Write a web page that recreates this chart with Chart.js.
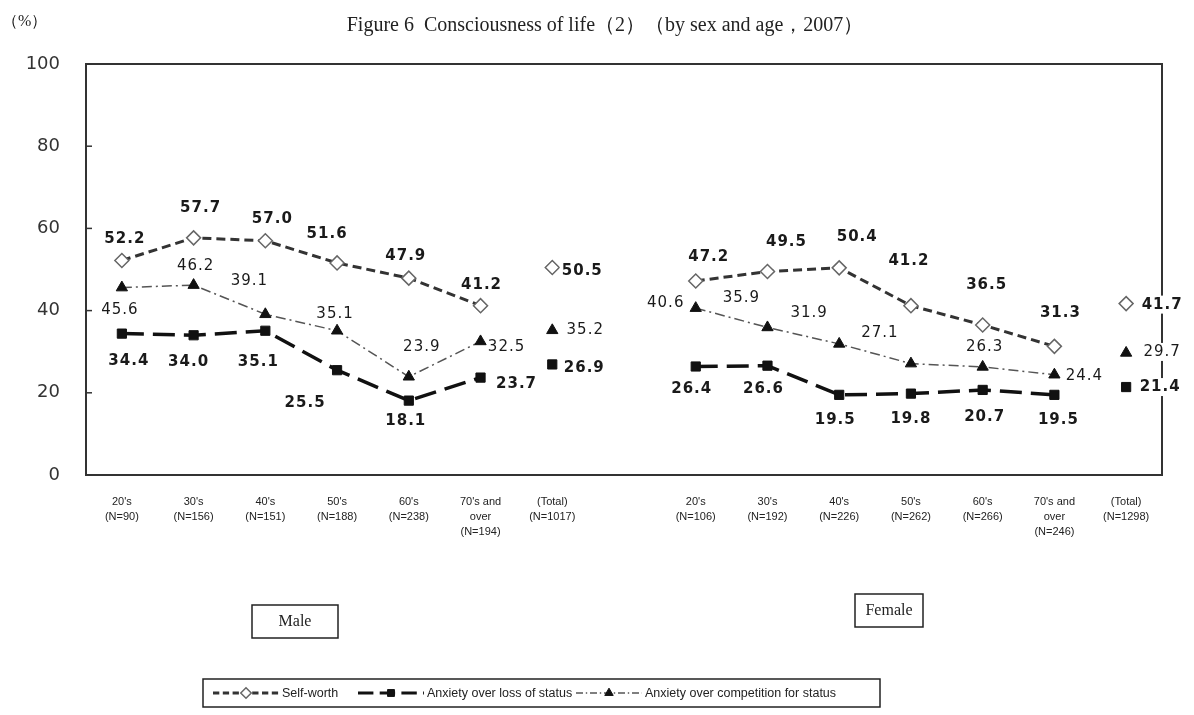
<!DOCTYPE html>
<html>
<head>
<meta charset="utf-8">
<script src="https://cdn.jsdelivr.net/npm/chart.js@4/dist/chart.umd.min.js"></script>
<style>
  body { margin: 0; background: #fff; }
  #wrap { width: 1194px; height: 715px; position: relative; }
</style>
</head>
<body>
<div id="wrap"><canvas id="chart"></canvas></div>
<script>
// Categories (age groups with sample size), male then female
const maleLabels = [["20's", "(N=90)"], ["30's", "(N=156)"], ["40's", "(N=151)"], ["50's", "(N=188)"],
    ["60's", "(N=238)"], ["70's and", "over", "(N=194)"], ["(Total)", "(N=1017)"]];
const femaleLabels = [["20's", "(N=106)"], ["30's", "(N=192)"], ["40's", "(N=226)"], ["50's", "(N=262)"],
    ["60's", "(N=266)"], ["70's and", "over", "(N=246)"], ["(Total)", "(N=1298)"]];

// Series values (%)
const maleSelfWorth = [52.2, 57.7, 57.0, 51.6, 47.9, 41.2, 50.5];
const femaleSelfWorth = [47.2, 49.5, 50.4, 41.2, 36.5, 31.3, 41.7];
const maleLoss = [34.4, 34.0, 35.1, 25.5, 18.1, 23.7, 26.9];
const femaleLoss = [26.4, 26.6, 19.5, 19.8, 20.7, 19.5, 21.4];
const maleCompetition = [45.6, 46.2, 39.1, 35.1, 23.9, 32.5, 35.2];
const femaleCompetition = [40.6, 35.9, 31.9, 27.1, 26.3, 24.4, 29.7];

const yTicks = [0, 20, 40, 60, 80, 100];

// Where each value label sits relative to its marker (dx, dy in px)
const selfWorthLabelPos = [[3, -21], [7, -30], [7, -22], [-10, -29], [-3, -22], [1, -21], [30, 4],
    [13, -24], [19, -29], [18, -31], [-2, -45], [4, -40], [6, -33], [36, 1]];
const lossLabelPos = [[7, 27], [-5, 27], [-7, 31], [-32, 33], [-3, 21], [36, 7], [32, 4],
    [-4, 23], [-4, 23], [-4, 25], [0, 25], [2, 27], [4, 25], [34, 0]];
const competitionLabelPos = [[-2, 23], [2, -19], [-16, -33], [-2, -17], [13, -30], [26, 6], [33, 0],
    [-30, -5], [-26, -29], [-30, -31], [-31, -31], [2, -20], [30, 1], [36, -1]];

// one empty slot between the male and female groups
const categories = [...maleLabels, '', ...femaleLabels];
const join = (m, f) => [...m, null, ...f];
const withGap = (m) => [...m.slice(0, 7), null, ...m.slice(7)];
const totalIndexes = [6, 14]; // (Total) points are not joined to the line

const hideTotalSegment = {
    borderColor: ctx => totalIndexes.includes(ctx.p1DataIndex) ? 'transparent' : undefined
};

const boldLabel = 'bold 15px "DejaVu Sans"';
const plainLabel = '15px "DejaVu Sans"';

const datasets = [
    {
        label: 'Self-worth',
        data: join(maleSelfWorth, femaleSelfWorth),
        borderColor: '#333',
        borderWidth: 3,
        borderDash: [9, 5],
        pointStyle: 'rectRot',
        pointRadius: 7,
        pointBackgroundColor: '#fff',
        pointBorderColor: '#666',
        pointBorderWidth: 1.5,
        segment: hideTotalSegment,
        labelPos: withGap(selfWorthLabelPos),
        labelFont: boldLabel
    },
    {
        label: 'Anxiety over loss of status',
        data: join(maleLoss, femaleLoss),
        borderColor: '#111',
        borderWidth: 3.5,
        borderDash: [22, 9],
        pointStyle: 'rect',
        pointRadius: 6.5,
        pointBackgroundColor: '#111',
        pointBorderColor: '#111',
        pointBorderWidth: 1,
        segment: hideTotalSegment,
        labelPos: withGap(lossLabelPos),
        labelFont: boldLabel
    },
    {
        label: 'Anxiety over competition for status',
        data: join(maleCompetition, femaleCompetition),
        borderColor: '#555',
        borderWidth: 1.5,
        borderDash: [10, 4, 2, 4],
        pointStyle: 'triangle',
        pointRadius: 6.5,
        pointBackgroundColor: '#111',
        pointBorderColor: '#111',
        pointBorderWidth: 1,
        segment: hideTotalSegment,
        labelPos: withGap(competitionLabelPos),
        labelFont: plainLabel
    }
];

// Frame, title, unit, group boxes and legend (drawn under the value labels)
const decorations = {
    id: 'decorations',
    afterDatasetsDraw(chart) {
        const ctx = chart.ctx;
        const a = chart.chartArea;
        const y = chart.scales.y;
        ctx.save();

        // plot frame
        ctx.strokeStyle = '#333';
        ctx.lineWidth = 2;
        ctx.strokeRect(a.left, a.top, a.right - a.left, a.bottom - a.top);
        // inward tick marks on the value axis
        ctx.lineWidth = 1.5;
        yTicks.forEach(t => {
            const py = y.getPixelForValue(t);
            ctx.beginPath();
            ctx.moveTo(a.left, py);
            ctx.lineTo(a.left + 6, py);
            ctx.stroke();
        });

        // title and unit
        ctx.fillStyle = '#222';
        ctx.font = '20px "Liberation Serif"';
        ctx.textBaseline = 'middle';
        ctx.textAlign = 'center';
        ctx.fillText('Figure 6  Consciousness of life（2）（by sex and age，2007）', 605, 26);
        ctx.textAlign = 'left';
        ctx.font = '16px "Liberation Serif"';
        ctx.fillText('（%）', 2, 22);

        // Male / Female boxes
        ctx.lineWidth = 1.5;
        ctx.strokeStyle = '#222';
        ctx.font = '16px "Liberation Serif"';
        ctx.textAlign = 'center';
        ctx.strokeRect(252, 605, 86, 33);
        ctx.fillText('Male', 295, 622);
        ctx.strokeRect(855, 594, 68, 33);
        ctx.fillText('Female', 889, 611);

        // legend
        ctx.strokeRect(203, 679, 677, 28);
        ctx.font = '12.5px "Liberation Sans"';
        ctx.textAlign = 'left';
        const legendStarts = [213, 358, 576];
        const ly = 693;
        chart.data.datasets.forEach((ds, i) => {
            const x = legendStarts[i];
            ctx.save();
            ctx.strokeStyle = ds.borderColor;
            ctx.lineWidth = Math.min(ds.borderWidth, 3);
            ctx.setLineDash(ds.borderDash.map(d => d * 0.7));
            ctx.beginPath();
            ctx.moveTo(x, ly);
            ctx.lineTo(x + 66, ly);
            ctx.stroke();
            ctx.restore();
            ctx.save();
            ctx.fillStyle = ds.pointBackgroundColor;
            ctx.strokeStyle = ds.pointBorderColor;
            ctx.lineWidth = ds.pointBorderWidth;
            Chart.helpers.drawPoint(ctx, {
                pointStyle: ds.pointStyle,
                radius: ds.pointRadius * 0.75,
                borderWidth: ds.pointBorderWidth,
                rotation: 0
            }, x + 33, ly);
            ctx.restore();
            ctx.fillStyle = '#222';
            ctx.fillText(ds.label, x + 69, ly + 1);
        });
        ctx.restore();
    }
};

// Value labels next to every marker
const valueLabels = {
    id: 'valueLabels',
    afterDatasetsDraw(chart) {
        const ctx = chart.ctx;
        chart.data.datasets.forEach((ds, i) => {
            const meta = chart.getDatasetMeta(i);
            meta.data.forEach((pt, j) => {
                const v = ds.data[j];
                const pos = ds.labelPos[j];
                if (v === null || !pos) return;
                const text = v.toFixed(1);
                const tx = pt.x + pos[0];
                const ty = pt.y + pos[1];
                ctx.save();
                ctx.font = ds.labelFont;
                ctx.letterSpacing = '1px';
                ctx.textAlign = 'center';
                ctx.textBaseline = 'middle';
                // total labels sit on a white box (they cover the frame)
                if (totalIndexes.includes(j)) {
                    const w = ctx.measureText(text).width + 4;
                    ctx.fillStyle = '#fff';
                    ctx.fillRect(tx - w / 2, ty - 9, w, 18);
                }
                ctx.fillStyle = '#1a1a1a';
                ctx.fillText(text, tx, ty);
                ctx.restore();
            });
        });
    }
};

const chart = new Chart(document.getElementById('chart'), {
    type: 'line',
    data: { labels: categories, datasets: datasets },
    options: {
        responsive: true,
        maintainAspectRatio: false,
        animation: false,
        layout: { padding: { top: 64, right: 32, left: 0, bottom: 0 } },
        plugins: {
            legend: { display: false },
            title: { display: false },
            tooltip: { enabled: false }
        },
        scales: {
            x: {
                type: 'category',
                offset: true,
                grid: { display: false, offset: true },
                border: { display: false },
                ticks: {
                    autoSkip: false,
                    maxRotation: 0,
                    minRotation: 0,
                    padding: 12,
                    color: '#222',
                    font: { family: 'Liberation Sans', size: 11, lineHeight: 1.35 }
                },
                afterFit: scale => { scale.height = 240; }
            },
            y: {
                min: 0,
                max: 100,
                grid: { display: false },
                border: { display: false },
                afterBuildTicks: scale => { scale.ticks = yTicks.map(v => ({ value: v })); },
                ticks: {
                    padding: 18,
                    color: '#333',
                    font: { family: 'DejaVu Sans', size: 18 }
                },
                afterFit: scale => { scale.width = 86; }
            }
        }
    },
    plugins: [decorations, valueLabels]
});
</script>
</body>
</html>
